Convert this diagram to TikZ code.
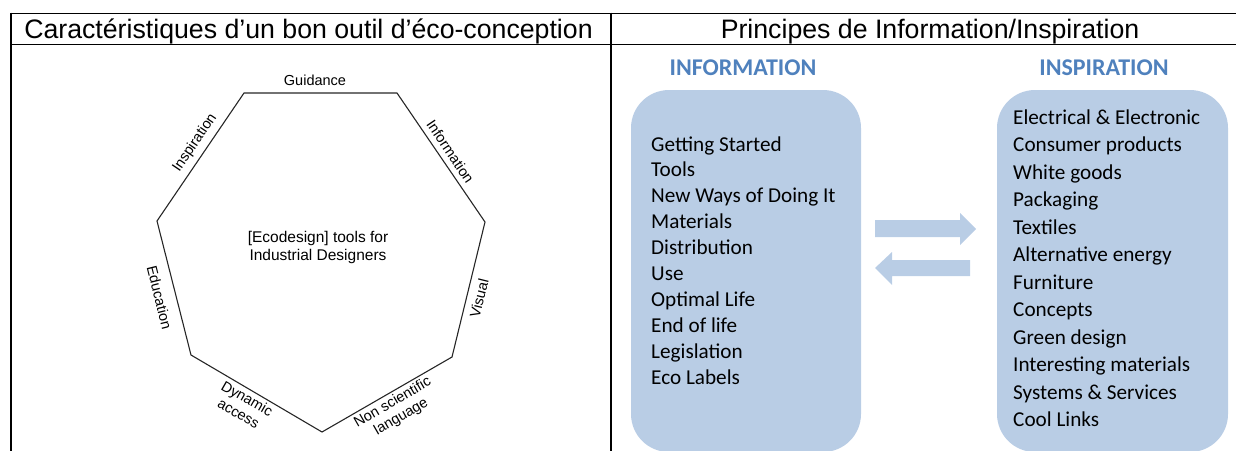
\documentclass[tikz,border=0pt]{standalone}
\usepackage{fontspec}
\setmainfont{Liberation Sans}
\newfontfamily\calfont{Carlito}
\definecolor{boxblue}{RGB}{185,205,229}
\definecolor{headblue}{RGB}{79,129,189}
\begin{document}
\begin{tikzpicture}[x=1pt,y=-1pt,
  rule/.style={line width=1.8pt,black},
  hepline/.style={line width=1.1pt,black!85},
  heplabel/.style={font=\fontsize{14.5}{17}\selectfont,inner sep=0pt,align=center},
  headtxt/.style={font=\fontsize{26.7}{30}\selectfont,inner sep=0pt,anchor=base},
  colhead/.style={font=\calfont\bfseries\fontsize{24}{28}\selectfont,text=headblue,inner sep=0pt,anchor=base},
  listtxt/.style={font=\calfont\fontsize{21.2}{25}\selectfont,inner sep=0pt,anchor=base west},
  bluebox/.style={fill=boxblue,draw=none,rounded corners=38pt},
  bluearrow/.style={fill=boxblue,draw=none}]
\useasboundingbox (0,0) rectangle (1236,450);
% table
\coordinate (tl) at (10,13.5);
\coordinate (tr) at (1237,13.5);
\coordinate (hl) at (10,44.5);
\coordinate (hr) at (1237,44.5);
\coordinate (lb) at (11,451);
\coordinate (lt) at (11,12.6);
\coordinate (mt) at (611,12.6);
\coordinate (mb) at (611,451);
\draw[rule] (tl) -- (tr);
\draw[rule] (hl) -- (hr);
\draw[rule] (lt) -- (lb);
\draw[rule] (mt) -- (mb);
\node[headtxt] (h1) at (308.5,38) {Caractéristiques d’un bon outil d’éco-conception};
\node[headtxt] (h2) at (930,38) {Principes de Information/Inspiration};
% heptagon
\coordinate (v1) at (244,93);
\coordinate (v2) at (397,93);
\coordinate (v3) at (485,222);
\coordinate (v4) at (452,357);
\coordinate (v5) at (322,432);
\coordinate (v6) at (191,355);
\coordinate (v7) at (157,221);
\draw[hepline,line join=miter] (v1) -- (v2) -- (v3) -- (v4) -- (v5) -- (v6) -- (v7) -- cycle;
\node[heplabel] (lg) at (315,80) {Guidance};
\node[heplabel,rotate=56] (lins) at (195,143) {Inspiration};
\node[heplabel,rotate=-56] (linf) at (450.5,151.5) {Information};
\node[heplabel,rotate=-76] (led) at (159.5,297.5) {Education};
\node[heplabel,rotate=76] (lvis) at (479,298) {Visual};
\node[heplabel,rotate=-30] (ldyn) at (243,406) {Dynamic\\access};
\node[heplabel,rotate=30] (lnon) at (397,410) {Non scientific\\language};
\node[heplabel,font=\fontsize{15.5}{18}\selectfont] (ctr) at (318,247) {[Ecodesign] tools for\\Industrial Designers};
% right part
\node[colhead] (hinfo) at (743,75) {INFORMATION};
\node[colhead] (hinsp) at (1104,75) {INSPIRATION};
\draw[bluebox] (631,90) rectangle (861,452);
\draw[bluebox] (997,90) rectangle (1228,452);
\foreach \t [count=\i from 0] in {Getting Started,Tools,New Ways of Doing It,Materials,Distribution,Use,Optimal Life,End of life,Legislation,Eco Labels}
  \node[listtxt] (info\i) at (651,151+25.9*\i) {\t};
\foreach \t [count=\i from 0] in {Electrical \& Electronic,Consumer products,White goods,Packaging,Textiles,Alternative energy,Furniture,Concepts,Green design,Interesting materials,Systems \& Services,Cool Links}
  \node[listtxt] (insp\i) at (1013,124+27.5*\i) {\t};
% arrows
\fill[bluearrow] (875,220) -- (960,220) -- (960,213) -- (976,229) -- (960,245) -- (960,237) -- (875,237) -- cycle;
\fill[bluearrow] (970,260) -- (892,260) -- (892,252) -- (875,268) -- (892,285) -- (892,276) -- (970,276) -- cycle;
\end{tikzpicture}
\end{document}
